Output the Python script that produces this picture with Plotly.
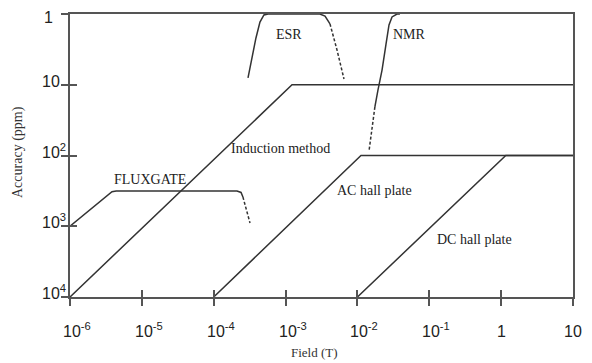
import math
import plotly.graph_objects as go

# ---- data: field in T, accuracy in ppm ----
induction_x = [1e-6, 1.23e-3, 10]
induction_y = [1e4, 10, 10]

ac_x = [1e-4, 1.12e-2, 10]
ac_y = [1e4, 100, 100]

dc_x = [1e-2, 1.16, 10]
dc_y = [1e4, 100, 100]

flux_x = [1e-6, 3.3e-6, 3.84e-6, 4.4e-6, 2.11e-4, 2.4e-4, 2.55e-4]
flux_y = [1e3, 360, 325, 318, 318, 333, 386]
flux_dash_x = [2.55e-4, 2.86e-4, 3.2e-4]
flux_dash_y = [386, 589, 900]

esr_x = [3.0e-4, 3.4e-4, 3.87e-4, 4.4e-4, 5.0e-4, 5.7e-4, 3.0e-3, 3.54e-3, 3.9e-3, 4.15e-3]
esr_y = [8.0, 4.06, 2.18, 1.3, 1.03, 1.0, 1.0, 1.07, 1.22, 1.38]
esr_dash_x = [4.15e-3, 5.2e-3, 6.5e-3]
esr_dash_y = [1.38, 3.23, 8.3]

nmr_x = [3.9e-2, 3.56e-2, 3.03e-2, 2.75e-2, 2.49e-2, 2.2e-2, 1.93e-2, 1.75e-2]
nmr_y = [1.0, 1.0, 1.1, 1.43, 2.74, 6.2, 11.9, 20.6]
nmr_dash_x = [1.75e-2, 1.6e-2, 1.45e-2]
nmr_dash_y = [20.6, 40.8, 86.3]

x_tickvals = [1e-6, 1e-5, 1e-4, 1e-3, 1e-2, 1e-1, 1, 10]
x_ticktext = ["10<sup>-6</sup>", "10<sup>-5</sup>", "10<sup>-4</sup>", "10<sup>-3</sup>",
              "10<sup>-2</sup>", "10<sup>-1</sup>", "1", "10"]
y_tickvals = [1, 10, 100, 1000, 10000]
y_ticktext = ["1", "10", "10<sup>2</sup>", "10<sup>3</sup>", "10<sup>4</sup>"]

x_title = "Field (T)"
y_title = "Accuracy (ppm)"

labels = ["ESR", "NMR", "Induction method", "FLUXGATE", "AC hall plate", "DC hall plate"]
label_px = [(289, 35), (409, 35), (280, 148), (150, 180), (374, 190), (474, 239)]

# ---- figure (page has an 8px body margin, so the figure is 8px smaller) ----
W, H = 584, 355
L, R, T, B = 62, 19, 6, 66
pw, ph = W - L - R, H - T - B
PX0, PY1 = 70, 297   # page pixel of plot-left / plot-bottom

LINE = "#333333"
AXC = "#555555"
TXT = "#222222"
SERIF = "Liberation Serif, Times New Roman, serif"
SANS = "Liberation Sans, Arial, sans-serif"

fig = go.Figure()


def solid(x, y):
    fig.add_trace(go.Scatter(x=x, y=y, mode="lines", line=dict(color=LINE, width=1.5),
                             showlegend=False, hoverinfo="skip"))


def dashed(x, y):
    fig.add_trace(go.Scatter(x=x, y=y, mode="lines",
                             line=dict(color=LINE, width=1.5, dash="3px,2px"),
                             showlegend=False, hoverinfo="skip"))


solid(induction_x, induction_y)
solid(ac_x, ac_y)
solid(dc_x, dc_y)
solid(flux_x, flux_y)
dashed(flux_dash_x, flux_dash_y)
solid(esr_x, esr_y)
dashed(esr_dash_x, esr_dash_y)
solid(nmr_x, nmr_y)
dashed(nmr_dash_x, nmr_dash_y)

# dummy trace for the overlay axes (inner half of crossing ticks)
fig.add_trace(go.Scatter(x=[1e-6], y=[1e4], xaxis="x2", yaxis="y2", mode="markers",
                         marker=dict(opacity=0), showlegend=False, hoverinfo="skip"))


def px2paper(px, py):
    return (px - PX0) / pw, (PY1 - py) / ph


# curve labels
for text, (px, py) in zip(labels, label_px):
    ax, ay = px2paper(px, py)
    fig.add_annotation(text=text, xref="paper", yref="paper", x=ax, y=ay,
                       showarrow=False, xanchor="center", yanchor="middle",
                       font=dict(family=SERIF, size=14, color=TXT))

# x tick labels
for v, t in zip(x_tickvals, x_ticktext):
    has_sup = "<sup>" in t
    fig.add_annotation(text=t, xref="x", yref="paper", x=math.log10(v), y=0,
                       xanchor="left" if has_sup else "center", yanchor="bottom",
                       xshift=-8 if has_sup else 0, yshift=-44,
                       showarrow=False, borderpad=0,
                       font=dict(family=SANS, size=16, color=TXT))

# y tick labels (the top one hangs from the figure's top edge so it is not clipped)
for v, t in zip(y_tickvals, y_ticktext):
    top = v == min(y_tickvals)
    fig.add_annotation(text=t, xref="paper", yref="y", x=px2paper(43 if top else 41, 0)[0],
                       y=math.log10(v),
                       xanchor="left", yanchor="top" if top else "bottom",
                       yshift=6 if top else -6,
                       showarrow=False, borderpad=0,
                       font=dict(family=SANS, size=16, color=TXT))

# axis titles
tx, ty = px2paper(314, 352)
fig.add_annotation(text=x_title, xref="paper", yref="paper", x=tx, y=ty,
                   xanchor="center", yanchor="middle", showarrow=False,
                   font=dict(family=SERIF, size=13, color="#333333"))
tx, ty = px2paper(18, 152)
fig.add_annotation(text=y_title, xref="paper", yref="paper", x=tx, y=ty,
                   xanchor="center", yanchor="middle", showarrow=False,
                   textangle=-90, font=dict(family=SERIF, size=14, color="#333333"))

axis_common = dict(showgrid=False, zeroline=False, automargin=False)

fig.update_layout(
    width=W, height=H,
    margin=dict(l=L, r=R, t=T, b=B),
    paper_bgcolor="white", plot_bgcolor="white",
    xaxis=dict(type="log", range=[-6, 1], tickvals=x_tickvals, showticklabels=False,
               ticks="outside", ticklen=7, tickwidth=1.5, tickcolor=AXC,
               showline=True, linecolor=AXC, linewidth=1.5, mirror=True,
               **axis_common),
    yaxis=dict(type="log", range=[4, 0], tickvals=y_tickvals, showticklabels=False,
               ticks="outside", ticklen=7, tickwidth=1.5, tickcolor=AXC,
               showline=True, linecolor=AXC, linewidth=1.5, mirror=True,
               **axis_common),
    xaxis2=dict(type="log", range=[-6, 1], overlaying="x", anchor="y2", tickvals=x_tickvals,
                ticks="inside", ticklen=7, tickwidth=1.5, tickcolor=AXC,
                showticklabels=False, showline=False, **axis_common),
    yaxis2=dict(type="log", range=[4, 0], overlaying="y", anchor="x2", tickvals=y_tickvals,
                ticks="inside", ticklen=7, tickwidth=1.5, tickcolor=AXC,
                showticklabels=False, showline=False, **axis_common),
)

fig.write_html("out.html")
